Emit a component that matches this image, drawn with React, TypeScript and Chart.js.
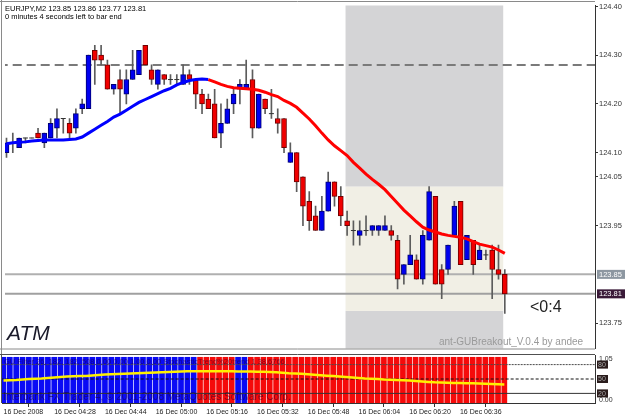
import React, { useEffect, useRef } from "react";
import { Chart, registerables } from "chart.js";
Chart.register(...registerables);

// ---------- text ----------
const symbolTitle = "EURJPY,M2 123.85 123.86 123.77 123.81";
const timerText = "0 minutes 4 seconds left to bar end";
const brandText = "ATM";
const countdownText = "<0:4";
const signatureText = "ant-GUBreakout_V.0.4 by andee";
const indicatorInfo = "GU Filter 26, 182, 182, 508 0.00 0.00 1.00 0.00 StochasticTrend%20trend 1 38.6766";
const copyrightText = "Interbank FX Trader 4, \u00a9 2001-2008 MetaQuotes Software Corp.";

// ---------- price data (M2 bars, index 0 = 16 Dec 04:12) ----------
const opens = [124.10,124.12,124.11,124.13,124.13,124.14,124.12,124.13,124.15,124.17,
  124.16,124.15,124.19,124.19,124.31,124.30,124.28,124.23,124.25,124.22,
  124.25,124.26,124.32,124.27,124.24,124.26,124.25,124.25,124.24,124.26,
  124.25,124.22,124.21,124.20,124.14,124.16,124.20,124.23,124.23,124.25,
  124.15,124.21,124.18,124.17,124.17,124.08,124.10,124.05,124.00,123.97,
  123.94,123.98,124.04,124.01,123.96,123.94,123.93,123.94,123.94,123.94,
  123.94,123.94,123.92,123.85,123.87,123.88,123.84,123.92,124.01,123.86,
  123.86,123.93,124.00,123.88,123.92,123.88,123.89,123.90,123.86,123.85];
const highs = [124.13,124.14,124.13,124.13,124.13,124.15,124.14,124.17,124.19,124.17,
  124.17,124.19,124.21,124.30,124.32,124.32,124.29,124.24,124.27,124.27,
  124.31,124.31,124.32,124.28,124.27,124.26,124.26,124.26,124.28,124.27,
  124.25,124.23,124.22,124.23,124.20,124.21,124.23,124.25,124.29,124.27,
  124.22,124.21,124.23,124.19,124.17,124.12,124.10,124.05,124.02,123.99,
  124.01,124.06,124.04,124.03,123.98,123.96,123.96,123.97,123.95,123.95,
  123.97,123.95,123.93,123.87,123.93,123.89,123.94,124.03,124.01,123.87,
  123.91,124.00,124.00,123.93,123.92,123.91,123.90,123.91,123.91,123.86];
const lows = [124.09,124.10,124.11,124.12,124.13,124.13,124.11,124.13,124.13,124.14,
  124.13,124.14,124.18,124.19,124.24,124.28,124.23,124.22,124.18,124.20,
  124.25,124.26,124.28,124.24,124.23,124.24,124.24,124.24,124.24,124.24,
  124.19,124.18,124.19,124.13,124.11,124.16,124.18,124.20,124.23,124.13,
  124.15,124.18,124.17,124.14,124.10,124.08,124.02,123.95,123.94,123.94,
  123.94,123.98,123.99,123.95,123.93,123.91,123.91,123.93,123.93,123.93,
  123.94,123.92,123.82,123.83,123.87,123.84,123.83,123.92,123.83,123.80,
  123.85,123.93,123.87,123.88,123.85,123.88,123.88,123.80,123.84,123.77];
const closes = [124.12,124.12,124.13,124.13,124.13,124.13,124.14,124.16,124.17,124.17,
  124.14,124.18,124.20,124.30,124.29,124.29,124.23,124.24,124.23,124.25,
  124.27,124.31,124.28,124.25,124.27,124.25,124.25,124.25,124.26,124.25,
  124.22,124.20,124.19,124.13,124.16,124.19,124.22,124.24,124.24,124.15,
  124.22,124.19,124.18,124.16,124.11,124.10,124.04,123.99,123.96,123.94,
  123.98,124.04,124.01,123.97,123.95,123.94,123.94,123.94,123.95,123.95,
  123.95,123.93,123.84,123.87,123.89,123.84,123.93,124.02,123.83,123.83,
  123.91,123.99,123.87,123.93,123.87,123.90,123.89,123.86,123.85,123.81];

// moving average (blue while rising, red after the turn)
const movingAverage = [124.118,124.120,124.121,124.122,124.124,124.125,124.126,124.126,124.126,124.126,
  124.127,124.128,124.132,124.140,124.148,124.156,124.164,124.173,124.179,124.187,
  124.195,124.203,124.209,124.215,124.221,124.227,124.232,124.239,124.244,124.248,
  124.250,124.251,124.250,124.245,124.240,124.236,124.233,124.232,124.231,124.230,
  124.228,124.224,124.219,124.215,124.207,124.201,124.193,124.181,124.169,124.155,
  124.140,124.126,124.114,124.104,124.094,124.080,124.068,124.056,124.045,124.035,
  124.024,124.010,123.996,123.982,123.970,123.958,123.947,123.941,123.937,123.933,
  123.930,123.928,123.926,123.923,123.917,123.912,123.909,123.906,123.900,123.893];
const maTurnBar = 32;

// horizontal levels
const dashedLevel = 124.28;
const askPrice = 123.85;
const bidPrice = 123.81;
const priceTicks = [124.4, 124.3, 124.2, 124.1, 124.05, 123.95, 123.75];

// breakout zone
const zoneBars = [53.75, 78.75];
const zonePrices = [124.03, 123.775];

// time axis
const timeTickBars = [0, 8, 16, 24, 32, 40, 48, 56, 64, 72];
const timeTickLabels = ["16 Dec 2008", "16 Dec 04:28", "16 Dec 04:44", "16 Dec 05:00", "16 Dec 05:16",
  "16 Dec 05:32", "16 Dec 05:48", "16 Dec 06:04", "16 Dec 06:20", "16 Dec 06:36"];

// indicator window
const trendSignal = [1,1,1,1,1,1,1,1,1,1, 1,1,1,1,1,1,1,1,1,1, 1,1,1,1,1,1,1,1,1,1,
  1,-1,-1,-1,-1,-1,-1,1,1,-1, -1,-1,-1,-1,-1,-1,-1,-1,-1,-1, -1,-1,-1,-1,-1,-1,-1,-1,-1,-1,
  -1,-1,-1,-1,-1,-1,-1,-1,-1,-1, -1,-1,-1,-1,-1,-1,-1,-1,-1,-1];
const histogramMax = 1.05;
const stochLine = [47,47.5,48,49, 50,50.5,51,52, 53,54,55, 55.5,56,56.5,57.5, 58.5,59.5,
  60,60.5,61,61.5, 62,62.5,63, 63.5,64,64.5,65, 65.5,66,66,66,66,
  66,66,66,66,65.5,65.5,65.5,65,65,64.5,64, 63,62,61.5,61,60, 59,58,57,56, 55,54,53,
  52,51,50.5,50, 49,48.5,48,47.5,47, 46,45,44, 43,42.5,42,41.5,41.5,41,41, 40.5,40,39.5,39,38.5];
const stochLevels = [80, 50, 20];

// ---------- helpers ----------
const FONT = "'Liberation Sans', Arial, sans-serif";
Chart.defaults.font.family = FONT;
const X_MIN = -0.237;
const X_MAX = 93.3;
const idx = opens.map((_, i) => i);
const isDoji = (i: number) => opens[i] === closes[i];
const bodyIdx = idx.filter((i) => !isDoji(i));
const dojiIdx = idx.filter((i) => isDoji(i));
const hline = (v: number) => [{ x: X_MIN - 1, y: v }, { x: X_MAX + 1, y: v }];

function mainConfig(): any {
  const decor = {
    id: "mainDecor",
    beforeDatasetsDraw(chart: any) {
      const { ctx, chartArea: a, scales } = chart;
      const x = scales.x, y = scales.y;
      const x0 = x.getPixelForValue(zoneBars[0]);
      const x1 = x.getPixelForValue(zoneBars[1]);
      const yHi = y.getPixelForValue(zonePrices[0]);
      const yLo = y.getPixelForValue(zonePrices[1]);
      ctx.save();
      ctx.fillStyle = "#D4D4D6";
      ctx.fillRect(x0, a.top, x1 - x0, yHi - a.top);
      ctx.fillRect(x0, yLo, x1 - x0, a.bottom - yLo);
      ctx.fillStyle = "#F1EFE5";
      ctx.fillRect(x0, yHi, x1 - x0, yLo - yHi);
      ctx.restore();
    },
    afterDraw(chart: any) {
      const { ctx, chartArea: a, scales } = chart;
      const y = scales.y;
      ctx.save();
      // frame
      ctx.strokeStyle = "#8a8a8a";
      ctx.lineWidth = 1;
      ctx.beginPath();
      ctx.moveTo(1.5, 0); ctx.lineTo(1.5, 354);
      ctx.moveTo(0, 1.5); ctx.lineTo(a.right, 1.5);
      ctx.moveTo(0, a.bottom + 0.5); ctx.lineTo(a.right, a.bottom + 0.5);
      ctx.stroke();
      // price boxes
      const box = (v: number, bg: string) => {
        const py = y.getPixelForValue(v);
        ctx.fillStyle = bg;
        ctx.fillRect(a.right + 2, py - 4.5, 28, 9);
        ctx.fillStyle = "#ffffff";
        ctx.font = `7.5px ${FONT}`;
        ctx.textBaseline = "middle";
        ctx.textAlign = "left";
        ctx.fillText(v.toFixed(2), a.right + 4, py + 0.5);
      };
      box(askPrice, "#8d97a1");
      box(bidPrice, "#3a1a38");
      // texts
      ctx.fillStyle = "#000";
      ctx.textBaseline = "alphabetic";
      ctx.font = `7.5px ${FONT}`;
      ctx.fillText(symbolTitle, 5, 11);
      ctx.fillText(timerText, 5, 18.5);
      ctx.fillStyle = "#1a1a2a";
      ctx.font = `italic 21px ${FONT}`;
      ctx.fillText(brandText, 7, 340);
      ctx.fillStyle = "#222";
      ctx.font = `16px ${FONT}`;
      ctx.fillText(countdownText, 530, 312);
      ctx.fillStyle = "#9a9a9a";
      ctx.font = `10px ${FONT}`;
      ctx.fillText(signatureText, 439, 345);
      ctx.restore();
    },
  };
  return {
    type: "bar",
    data: {
      datasets: [
        { type: "line", data: hline(dashedLevel), borderColor: "#7a7a7a", borderWidth: 2, borderDash: [9, 5], pointRadius: 0, order: 6 },
        { type: "line", data: hline(askPrice), borderColor: "#b0b0b0", borderWidth: 2, pointRadius: 0, order: 6 },
        { type: "line", data: hline(bidPrice), borderColor: "#a0a0a0", borderWidth: 2, pointRadius: 0, order: 6 },
        {
          type: "bar", data: idx.map((i) => ({ x: i, y: [lows[i], highs[i]] })),
          backgroundColor: "#5c5c5c", barThickness: 1, grouped: false, order: 4,
        },
        {
          type: "bar", data: bodyIdx.map((i) => ({ x: i, y: [opens[i], closes[i]] })),
          backgroundColor: bodyIdx.map((i) => (closes[i] > opens[i] ? "#0000F0" : "#F00000")),
          borderColor: bodyIdx.map((i) => (closes[i] > opens[i] ? "#000070" : "#700000")),
          borderWidth: 1, borderSkipped: false, barThickness: 5, grouped: false, order: 2,
        },
        {
          type: "line", data: dojiIdx.map((i) => ({ x: i, y: opens[i] })), showLine: false,
          pointStyle: "line", pointRadius: 2.5, borderColor: "#333", borderWidth: 1, order: 2,
        },
        {
          type: "line", data: idx.map((i) => ({ x: i, y: movingAverage[i] })), borderWidth: 3,
          pointRadius: 0, borderColor: "#FF0000",
          segment: { borderColor: (c: any) => (c.p0DataIndex < maTurnBar ? "#0000FF" : "#FF0000") },
          order: 0,
        },
      ],
    },
    options: {
      animation: false, responsive: false, devicePixelRatio: 1, events: [],
      layout: { padding: { left: 2, top: 2, right: 0, bottom: 2 } },
      plugins: { legend: { display: false }, tooltip: { enabled: false } },
      scales: {
        x: { type: "linear", display: false, min: X_MIN, max: X_MAX, offset: false },
        y: {
          position: "right", min: 123.6978, max: 124.402,
          afterFit: (s: any) => { s.width = 30; },
          afterBuildTicks: (s: any) => { s.ticks = priceTicks.map((v) => ({ value: v })); },
          ticks: { callback: (v: any) => Number(v).toFixed(2), font: { size: 7.5, family: FONT }, color: "#333", padding: 1, autoSkip: false },
          grid: { drawOnChartArea: false, drawTicks: true, tickLength: 3, color: "#333" },
          border: { color: "#333", width: 1 },
        },
      },
    },
    plugins: [decor],
  };
}

function indicatorConfig(): any {
  const decor = {
    id: "indDecor",
    afterDraw(chart: any) {
      const { ctx, chartArea: a, scales } = chart;
      const y = scales.y;
      ctx.save();
      ctx.strokeStyle = "#505050";
      ctx.lineWidth = 1;
      ctx.beginPath();
      ctx.moveTo(0, 0.5); ctx.lineTo(a.right, 0.5);
      ctx.moveTo(1.5, 0); ctx.lineTo(1.5, a.bottom);
      ctx.stroke();
      ctx.font = `7px ${FONT}`;
      ctx.textBaseline = "middle";
      ctx.textAlign = "left";
      ctx.fillStyle = "#333";
      ctx.fillText(histogramMax.toFixed(2), a.right + 4, y.getPixelForValue(100) + 4);
      stochLevels.forEach((lv) => {
        const py = y.getPixelForValue(lv);
        ctx.fillStyle = "#2a1c1c";
        ctx.fillRect(a.right + 2, py - 4, 11, 8);
        ctx.fillStyle = "#a8a8a8";
        ctx.fillText(String(lv), a.right + 3, py + 0.5);
      });
      ctx.fillStyle = "#333";
      ctx.fillText((0).toFixed(2), a.right + 4, y.getPixelForValue(0) - 3);
      ctx.textBaseline = "alphabetic";
      ctx.fillStyle = "rgba(25,0,45,0.55)";
      ctx.font = `7.5px ${FONT}`;
      ctx.fillText(indicatorInfo, 4, 10);
      ctx.font = `10px ${FONT}`;
      ctx.fillText(copyrightText, 3, 46);
      ctx.restore();
    },
  };
  const histValue = 100 / histogramMax;
  return {
    type: "bar",
    data: {
      datasets: [
        {
          type: "bar", data: idx.map((i) => ({ x: i, y: histValue * Math.abs(trendSignal[i]) })),
          backgroundColor: trendSignal.map((s) => (s > 0 ? "#0A0AF5" : "#F50A0A")),
          barThickness: 5, grouped: false, order: 5,
        },
        { type: "line", data: hline(stochLevels[0]), borderColor: "#4a4a4a", borderWidth: 1, borderDash: [2, 1], pointRadius: 0, order: 3 },
        { type: "line", data: hline(stochLevels[1]), borderColor: "#111", borderWidth: 1, borderDash: [3, 2], pointRadius: 0, order: 3 },
        { type: "line", data: hline(stochLevels[2]), borderColor: "#333", borderWidth: 1, pointRadius: 0, order: 3 },
        {
          type: "line", data: idx.map((i) => ({ x: i, y: stochLine[i] })), borderColor: "#FFF000",
          borderWidth: 2.5, pointRadius: 0, order: 0,
        },
      ],
    },
    options: {
      animation: false, responsive: false, devicePixelRatio: 1, events: [],
      layout: { padding: { left: 2, top: 1, right: 0, bottom: 0 } },
      plugins: { legend: { display: false }, tooltip: { enabled: false } },
      scales: {
        x: {
          type: "linear", min: X_MIN, max: X_MAX, offset: false,
          afterFit: (s: any) => { s.height = 14; },
          afterBuildTicks: (s: any) => { s.ticks = timeTickBars.map((v) => ({ value: v })); },
          ticks: {
            callback: (v: any) => timeTickLabels[timeTickBars.indexOf(Number(v))] ?? "",
            align: "start", font: { size: 7, family: FONT }, color: "#222", padding: 1,
            autoSkip: false, maxRotation: 0, minRotation: 0,
          },
          grid: { drawOnChartArea: false, drawTicks: true, tickLength: 4, color: "#333" },
          border: { color: "#333", width: 1 },
        },
        y: {
          position: "right", min: 0, max: 100,
          afterFit: (s: any) => { s.width = 30; },
          ticks: { display: false },
          grid: { display: false },
          border: { display: true, color: "#333", width: 1 },
        },
      },
    },
    plugins: [decor],
  };
}

export default function App() {
  const mainRef = useRef<HTMLCanvasElement>(null);
  const indRef = useRef<HTMLCanvasElement>(null);
  useEffect(() => {
    const c1 = new Chart(mainRef.current as HTMLCanvasElement, mainConfig());
    const c2 = new Chart(indRef.current as HTMLCanvasElement, indicatorConfig());
    return () => { c1.destroy(); c2.destroy(); };
  }, []);
  return (
    <div style={{ position: "fixed", left: 0, top: 0, width: 625, height: 417, background: "#fff", overflow: "hidden" }}>
      <canvas ref={mainRef} width={625} height={354} style={{ position: "absolute", left: 0, top: 0, width: 625, height: 354 }} />
      <canvas ref={indRef} width={625} height={63} style={{ position: "absolute", left: 0, top: 354, width: 625, height: 63 }} />
    </div>
  );
}
